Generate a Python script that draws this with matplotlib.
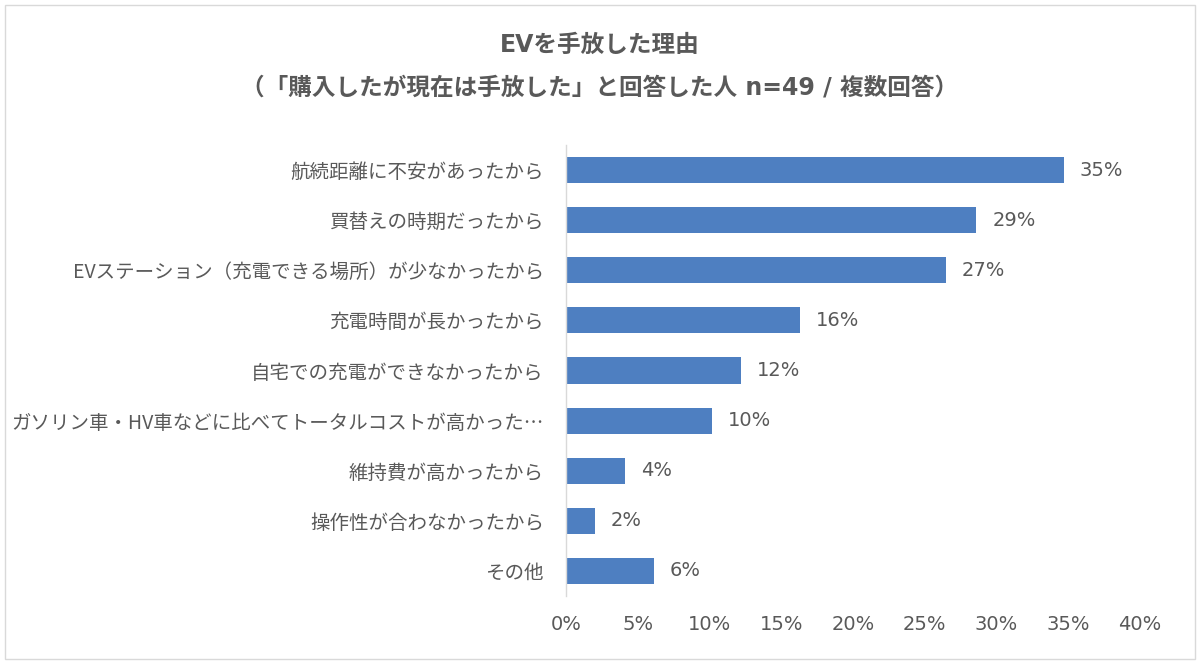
import matplotlib
matplotlib.use("Agg")
import matplotlib.pyplot as plt
from matplotlib.patches import Rectangle

plt.rcParams['font.family'] = ['DejaVu Sans', 'Noto Sans CJK JP']

# data (share of respondents, %)
reasons = [
    "航続距離に不安があったから",
    "買替えの時期だったから",
    "EVステーション（充電できる場所）が少なかったから",
    "充電時間が長かったから",
    "自宅での充電ができなかったから",
    "ガソリン車・HV車などに比べてトータルコストが高かった…",
    "維持費が高かったから",
    "操作性が合わなかったから",
    "その他",
]
values = [34.7, 28.6, 26.5, 16.3, 12.2, 10.2, 4.1, 2.0, 6.1]
xticks = [0, 5, 10, 15, 20, 25, 30, 35, 40]

text_color = '#595959'
bar_color = '#4E7FC1'

fig = plt.figure(figsize=(12, 6.64), dpi=100)
ax = fig.add_axes([0.4717, 0.1024, 0.4783, 0.6792])

y = list(range(len(reasons)))
ax.barh(y, values, height=0.52, color=bar_color)
ax.set_ylim(len(reasons) - 0.5, -0.5)
ax.set_xlim(0, 40)

for yi, v in zip(y, values):
    ax.text(v + 1.1, yi, f"{int(v + 0.5)}%", va='center', ha='left',
            fontsize=14, color=text_color)

ax.set_yticks(y)
ax.set_yticklabels(reasons, fontsize=14, color=text_color,
                   family=['Noto Sans CJK JP', 'DejaVu Sans'])
ax.set_xticks(xticks)
ax.set_xticklabels([f"{t}%" for t in xticks], fontsize=14, color=text_color)
ax.tick_params(axis='y', length=0, pad=16)
ax.tick_params(axis='x', length=0, pad=14)

for side in ['top', 'right', 'bottom']:
    ax.spines[side].set_visible(False)
ax.spines['left'].set_color('#D9D9D9')
ax.spines['left'].set_linewidth(1)

fig.text(0.5, 0.932, "EVを手放した理由", ha='center', va='center',
         fontsize=17, fontweight='bold', color=text_color)
fig.text(0.5, 0.868, "（「購入したが現在は手放した」と回答した人 n=49 / 複数回答）",
         ha='center', va='center', fontsize=17, fontweight='bold', color=text_color)

fig.patches.append(Rectangle((0.004, 0.008), 0.992, 0.985, transform=fig.transFigure,
                             fill=False, edgecolor='#D9D9D9', linewidth=1))

fig.savefig("out.png", dpi=100, facecolor='white')
